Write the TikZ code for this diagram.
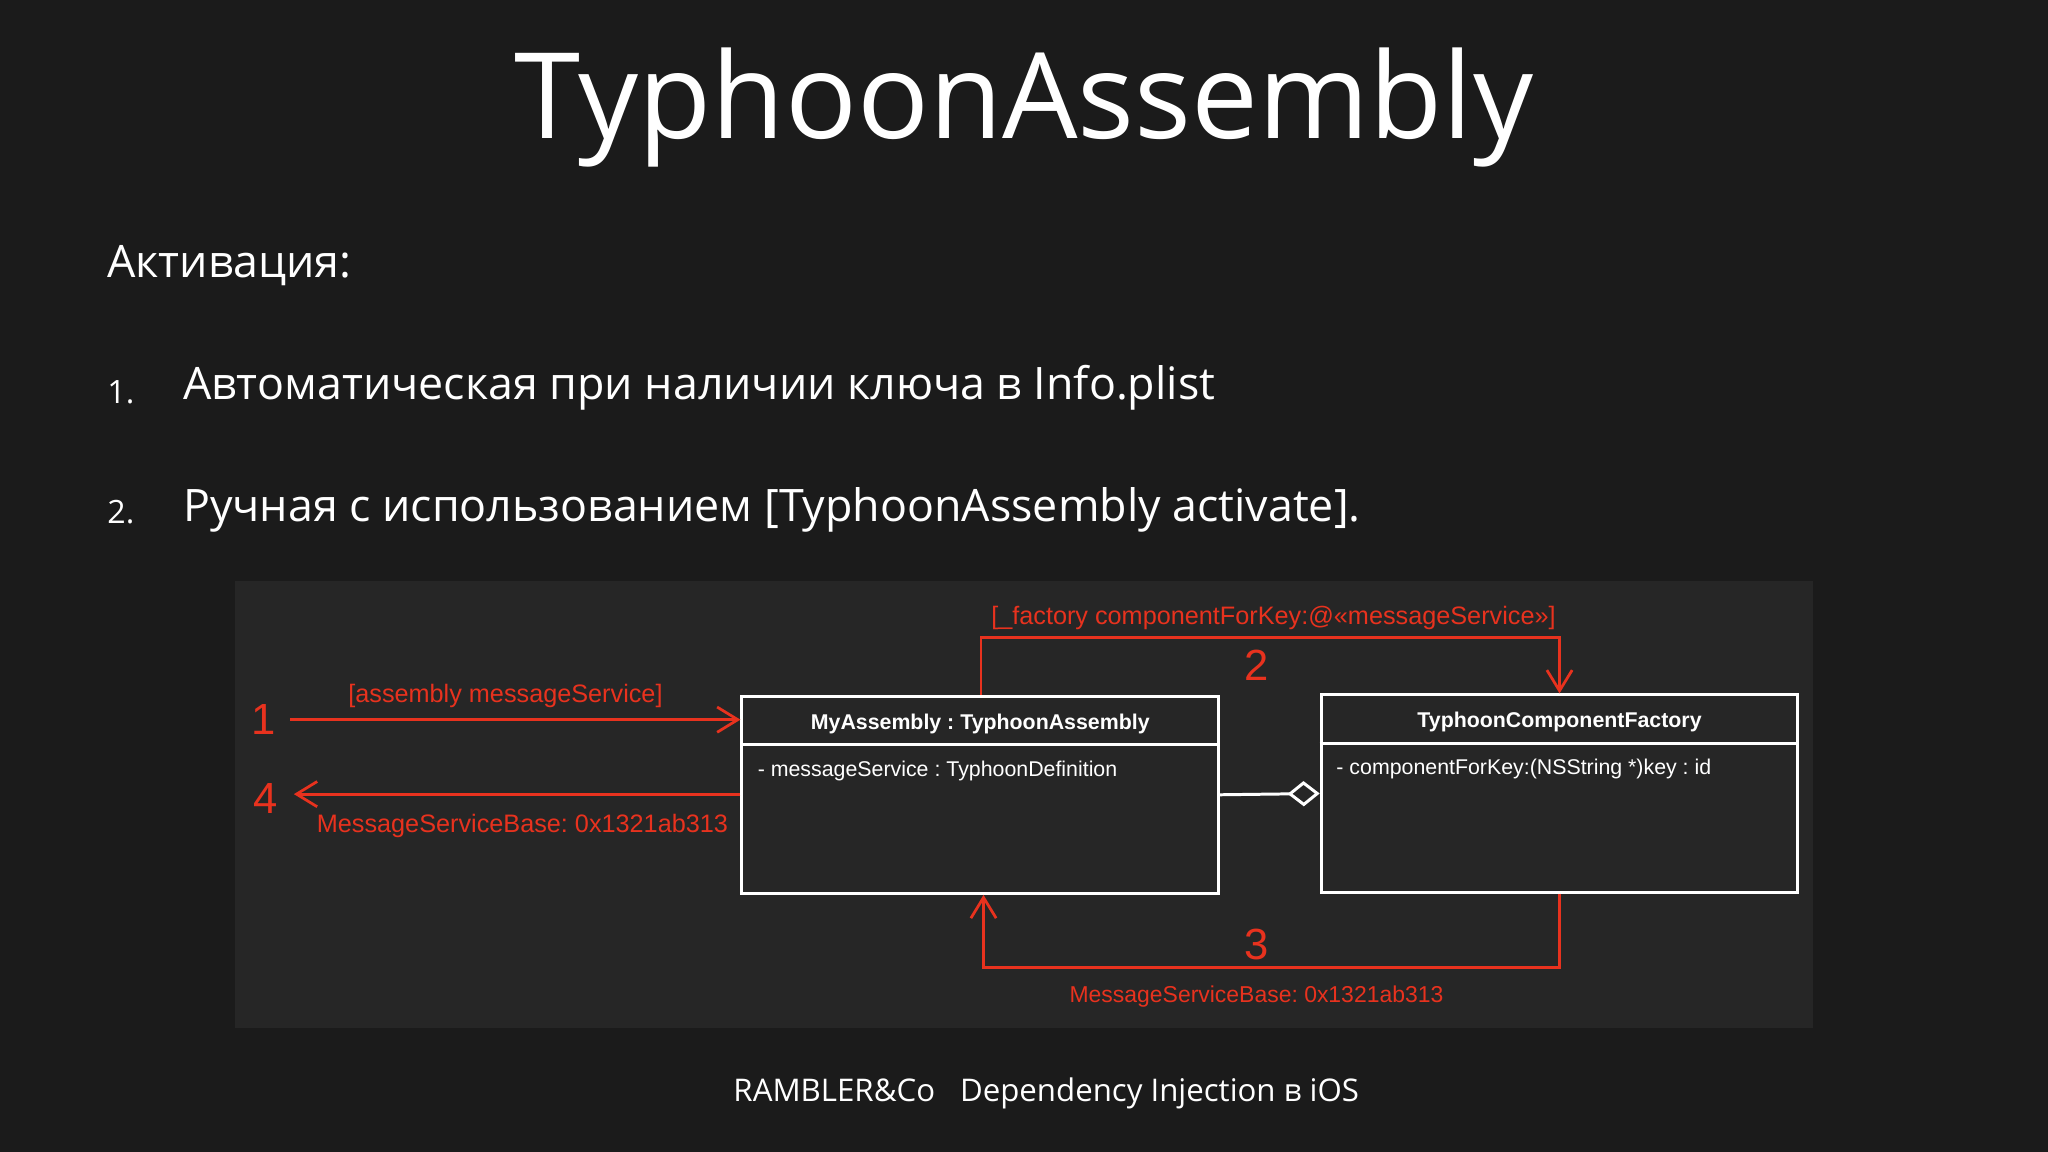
\documentclass[tikz,border=0pt]{standalone}
\usepackage{fontspec}
\setmainfont{Open Sans}
\newfontfamily\dia{Liberation Sans}
\usetikzlibrary{arrows.meta,calc}
\definecolor{bg}{HTML}{1B1B1B}
\definecolor{panel}{HTML}{262626}
\definecolor{rd}{HTML}{E8321E}
\frenchspacing
\tikzset{
 umlbox/.style={draw=white,line width=1.3pt,minimum width=7.3cm,minimum height=3.02cm,inner sep=0},
 redline/.style={draw=rd,line width=1.2pt},
 redtip/.style={-{Straight Barb[length=9pt,width=11pt,line width=1.2pt]}},
 redtxt/.style={text=rd,font=\dia\fontsize{11}{13}\selectfont},
 num/.style={text=rd,font=\dia\fontsize{19}{21}\selectfont},
 boxtxt/.style={text=white,font=\dia\fontsize{9.3}{11}\selectfont,anchor=west},
}
\begin{document}
\begin{tikzpicture}[x=0.02cm,y=-0.02cm]
\fill[bg] (0,0) rectangle (1568,882);
\useasboundingbox (0,0) rectangle (1568,882);
\fill[panel] (180,445) rectangle (1388,787);
\node[text=white,font=\fontsize{52}{56}\selectfont] (title) at (784,82) {TyphoonAssembly};
\node[text=white,anchor=west,font=\fontsize{19.5}{22}\selectfont] (act) at (76,203) {Активация:};
\node[text=white,anchor=west,font=\fontsize{14}{16}\selectfont] (n1) at (76,300) {1.};
\node[text=white,anchor=west,font=\fontsize{19.5}{22}\selectfont] (l1) at (134,297) {Автоматическая при наличии ключа в Info.plist};
\node[text=white,anchor=west,font=\fontsize{14}{16}\selectfont] (n2) at (76,392) {2.};
\node[text=white,anchor=west,font=\fontsize{19.5}{22}\selectfont] (l2) at (134,390) {Ручная с использованием [TyphoonAssembly activate].};
% boxes
\node[umlbox] (A) at (750.5,608.5) {};
\node[umlbox] (B) at (1194,607.5) {};
\draw[white,line width=1.3pt] ($(A.north west)+(0,38)$) -- ($(A.north east)+(0,38)$);
\draw[white,line width=1.3pt] ($(B.north west)+(0,38)$) -- ($(B.north east)+(0,38)$);
\node[text=white,font=\dia\bfseries\fontsize{9.3}{11}\selectfont] (Ah) at (750.5,554) {MyAssembly : TyphoonAssembly};
\node[text=white,font=\dia\bfseries\fontsize{9.3}{11}\selectfont] (Bh) at (1194,553) {TyphoonComponentFactory};
\node[boxtxt] (At) at (574,590) {- messageService : TyphoonDefinition};
\node[boxtxt] (Bt) at (1017,589) {- componentForKey:(NSString *)key : id};
\draw[white,line width=1.3pt,-{Diamond[open,fill=panel,length=14pt,width=11pt,line width=1.3pt]}] (A.east) -- (B.west);
% arrow 1
\coordinate (s1) at (222,551);
\draw[redline,redtip] (s1) -- (A.west |- s1);
\node[num] (k1) at (202,551) {1};
\node[redtxt] (t1) at (387,533) {[assembly messageService]};
% arrow 4
\coordinate (e4) at (225,608);
\draw[redline,redtip] (A.west |- e4) -- (e4);
\node[num] (k4) at (203,611) {4};
\node[redtxt] (t4) at (400,632) {MessageServiceBase: 0x1321ab313};
% arrow 2
\coordinate (c2a) at (751,488);
\coordinate (c2b) at (1194,488);
\draw[redline,redtip] (A.north -| c2a) -- (c2a) -- (c2b) -- (B.north);
\node[redtxt] (t2) at (975,473) {[\_factory componentForKey:@«messageService»]};
\node[num] (k2) at (962,509) {2};
% arrow 3
\coordinate (c3a) at (1194,741);
\coordinate (c3b) at (753,741);
\draw[redline,redtip] (B.south) -- (c3a) -- (c3b) -- (A.south -| c3b);
\node[num] (k3) at (962,723) {3};
\node[redtxt,font=\dia\fontsize{10}{12}\selectfont] (t3) at (962,763) {MessageServiceBase: 0x1321ab313};
% footer
\node[text=white,font=\fontsize{13.6}{16}\selectfont] (foot) at (801,837) {RAMBLER\&Co\hspace{0.8em}Dependency Injection в iOS};
\end{tikzpicture}
\end{document}
